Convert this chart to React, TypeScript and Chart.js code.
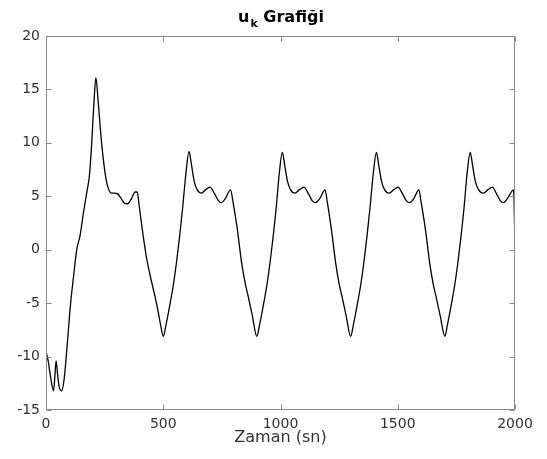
import React, { useEffect, useRef } from 'react';
import { Chart, registerables } from 'chart.js';

Chart.register(...registerables);

// Time axis (sn) and u_k values
const TIME = [
  0, 10, 20, 32, 38, 43, 50, 58, 67, 78, 90, 105, 116, 131, 145, 160, 175, 185, 195, 205,
  213, 222, 237, 256, 268, 280, 292, 304, 320, 335, 347, 365, 380, 389, 398, 410, 429, 445,
  465, 480, 490,
  500, 512, 527, 543, 557, 570, 583, 597, 610, 620, 632, 645, 664, 680, 699, 720, 735,
  749, 765, 787, 798, 816, 834, 850, 862, 880,
  899, 911, 926, 942, 956, 969, 982, 995, 1008, 1018, 1030, 1043, 1062, 1080, 1100,
  1120, 1135, 1150, 1168, 1190, 1200, 1217, 1235, 1250, 1262, 1280,
  1299, 1311, 1326, 1342, 1356, 1369, 1382, 1396, 1409, 1419, 1431, 1444, 1464, 1482,
  1501, 1521, 1536, 1552, 1569, 1590, 1600, 1618, 1636, 1651, 1663, 1681,
  1701, 1712, 1727, 1743, 1757, 1770, 1783, 1796, 1809, 1819, 1831, 1845, 1866, 1884,
  1903, 1922, 1937, 1950, 1968, 1994, 2000,
];
const UK = [
  -9.5, -10.5, -12.0, -13.2, -11.8, -10.4, -11.8, -13.0, -13.2, -12.0, -9.0, -5.0, -2.8, 0.0,
  1.3, 3.5, 5.5, 6.9, 10.0, 14.0, 16.1, 14.0, 10.0, 6.6, 5.6, 5.3, 5.3, 5.25, 4.8, 4.35, 4.3,
  4.8, 5.4, 5.4, 4.0, 2.0, -0.8, -2.5, -4.4, -6.0, -7.2,
  -8.1, -7.0, -5.3, -3.3, -1.1, 1.3, 4.0, 7.2, 9.2, 8.0, 6.4, 5.6, 5.3, 5.6, 5.85, 5.2,
  4.6, 4.4, 4.8, 5.6, 4.4, 1.9, -1.2, -3.2, -4.35, -6.2,
  -8.1, -7.0, -5.3, -3.3, -1.1, 1.3, 4.0, 7.2, 9.1, 7.9, 6.4, 5.6, 5.3, 5.6, 5.85, 5.2,
  4.6, 4.4, 4.8, 5.6, 4.4, 1.9, -1.2, -3.2, -4.35, -6.2,
  -8.1, -7.0, -5.3, -3.3, -1.1, 1.3, 4.0, 7.2, 9.1, 7.9, 6.4, 5.6, 5.3, 5.6, 5.85, 5.2,
  4.6, 4.4, 4.8, 5.6, 4.4, 1.9, -1.2, -3.2, -4.35, -6.2,
  -8.1, -7.0, -5.3, -3.3, -1.1, 1.3, 4.0, 7.2, 9.1, 7.9, 6.4, 5.6, 5.3, 5.6, 5.85, 5.2,
  4.6, 4.4, 4.8, 5.6, 0.5,
];

const X_TICKS = [0, 500, 1000, 1500, 2000];
const Y_TICKS = [-15, -10, -5, 0, 5, 10, 15, 20];
const TITLE_MAIN = 'u';
const TITLE_SUB = 'k';
const TITLE_REST = ' Grafiği';
const X_LABEL = 'Zaman (sn)';

const FONT = '"DejaVu Sans", sans-serif';
const AXIS_COLOR = '#8a8a8a';
const TEXT_COLOR = '#333333';

const boxPlugin = {
  id: 'matlabBox',
  afterDraw(chart: any) {
    const { ctx, chartArea: a, scales } = chart;
    const L = Math.round(a.left) + 0.5;
    const R = Math.round(a.right) - 0.5;
    const T = Math.round(a.top) + 0.5;
    const B = Math.round(a.bottom) - 0.5;
    const tl = 5;
    ctx.save();
    ctx.strokeStyle = AXIS_COLOR;
    ctx.lineWidth = 1;
    ctx.beginPath();
    ctx.rect(L, T, R - L, B - T);
    X_TICKS.forEach((v) => {
      const px = Math.round(scales.x.getPixelForValue(v)) + 0.5;
      ctx.moveTo(px, B);
      ctx.lineTo(px, B - tl);
      ctx.moveTo(px, T);
      ctx.lineTo(px, T + tl);
    });
    Y_TICKS.forEach((v) => {
      const py = Math.round(scales.y.getPixelForValue(v)) + 0.5;
      ctx.moveTo(L, py);
      ctx.lineTo(L + tl, py);
      ctx.moveTo(R, py);
      ctx.lineTo(R - tl, py);
    });
    ctx.stroke();

    // title with subscript
    const big = 'bold 16px ' + FONT;
    const small = 'bold 11px ' + FONT;
    ctx.fillStyle = '#000';
    ctx.textBaseline = 'alphabetic';
    ctx.textAlign = 'left';
    ctx.font = big;
    const w1 = ctx.measureText(TITLE_MAIN).width;
    const w3 = ctx.measureText(TITLE_REST).width;
    ctx.font = small;
    const w2 = ctx.measureText(TITLE_SUB).width;
    const cx = (a.left + a.right) / 2;
    let x = cx - (w1 + w2 + w3) / 2;
    const baseY = 22;
    ctx.font = big;
    ctx.fillText(TITLE_MAIN, x, baseY);
    x += w1 + 1;
    ctx.font = small;
    ctx.fillText(TITLE_SUB, x, baseY + 5);
    x += w2;
    ctx.font = big;
    ctx.fillText(TITLE_REST, x, baseY);
    ctx.restore();
  },
};

export default function App() {
  const ref = useRef<HTMLCanvasElement>(null);
  useEffect(() => {
    const canvas = ref.current;
    if (!canvas) return;
    const points = TIME.map((t, i) => ({ x: t, y: UK[i] }));
    const chart = new Chart(canvas, {
      type: 'line',
      data: {
        datasets: [
          {
            data: points,
            borderColor: '#000000',
            borderWidth: 1.3,
            pointRadius: 0,
            fill: false,
            cubicInterpolationMode: 'monotone',
          },
        ],
      },
      options: {
        animation: false,
        responsive: false,
        devicePixelRatio: 1,
        layout: { padding: { top: 36, right: 32, left: 0, bottom: 0 } },
        plugins: { legend: { display: false }, tooltip: { enabled: false }, title: { display: false } },
        scales: {
          x: {
            type: 'linear',
            min: 0,
            max: 2000,
            afterBuildTicks: (s: any) => {
              s.ticks = X_TICKS.map((v) => ({ value: v }));
            },
            afterFit: (s: any) => {
              s.height = 49;
            },
            ticks: {
              color: TEXT_COLOR,
              font: { family: FONT, size: 14 },
              padding: 6,
              maxRotation: 0,
              autoSkip: false,
              callback: (v: any) => String(v),
            },
            grid: { display: false, drawTicks: false },
            border: { display: false },
            title: {
              display: true,
              text: X_LABEL,
              color: TEXT_COLOR,
              font: { family: FONT, size: 16 },
              padding: { top: 0, bottom: 12 },
            },
          },
          y: {
            type: 'linear',
            min: -15,
            max: 20,
            afterBuildTicks: (s: any) => {
              s.ticks = Y_TICKS.map((v) => ({ value: v }));
            },
            afterFit: (s: any) => {
              s.width = 46;
            },
            ticks: {
              color: TEXT_COLOR,
              font: { family: FONT, size: 14 },
              padding: 6,
              autoSkip: false,
              callback: (v: any) => String(v),
            },
            grid: { display: false, drawTicks: false },
            border: { display: false },
          },
        },
      },
      plugins: [boxPlugin],
    });
    return () => chart.destroy();
  }, []);
  return (
    <div style={{ position: 'absolute', left: 0, top: 0, width: 547, height: 459, background: '#fff' }}>
      <canvas ref={ref} width={547} height={459} style={{ display: 'block' }} />
    </div>
  );
}
